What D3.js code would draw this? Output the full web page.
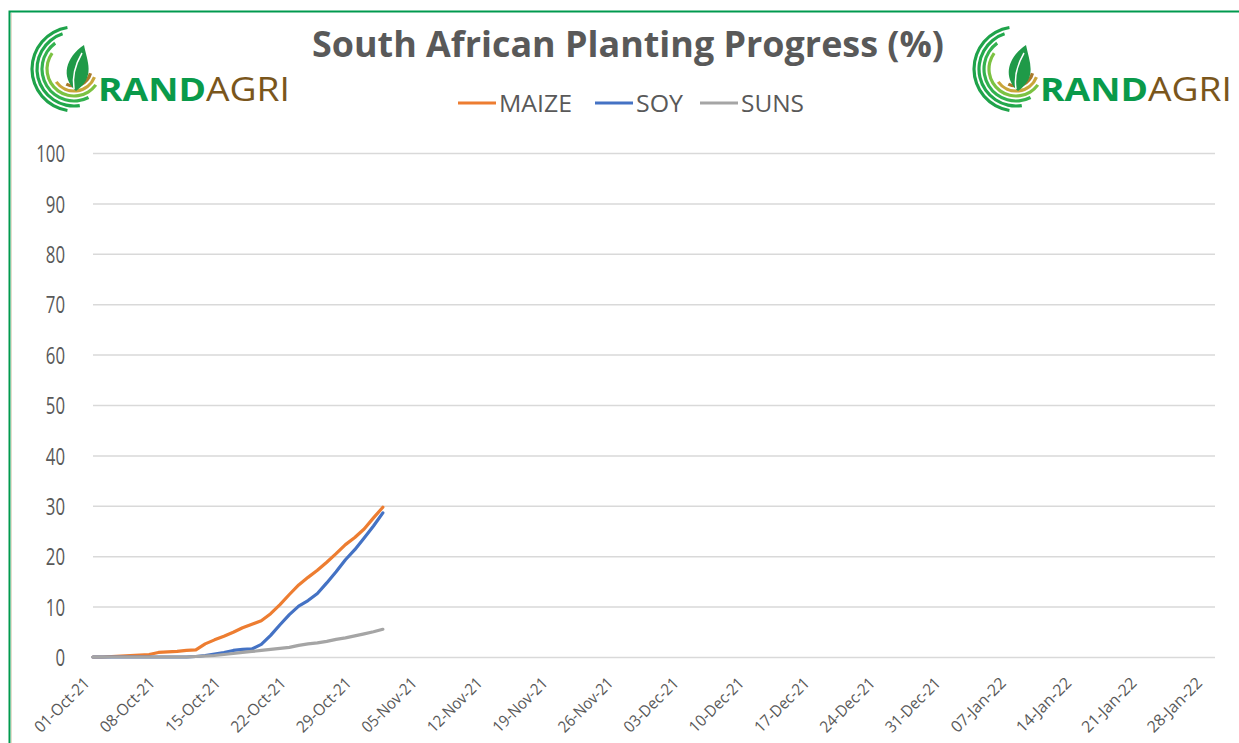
<!DOCTYPE html>
<meta charset="utf-8">
<script src="https://cdn.jsdelivr.net/npm/d3@7"></script>
<html>
<head>
  <title>South African Planting Progress</title>
  <style>
    body { margin: 0; background: #fff; }
    svg text { font-family: "Open Sans", "Liberation Sans", sans-serif; }
  </style>
</head>
<body>
  <div id="my_dataviz"></div>
</body>
</html>

<script>
  // daily dates for the season so far
  var dates = ["01-Oct-21","02-Oct-21","03-Oct-21","04-Oct-21","05-Oct-21","06-Oct-21","07-Oct-21",
    "08-Oct-21","09-Oct-21","10-Oct-21","11-Oct-21","12-Oct-21","13-Oct-21","14-Oct-21",
    "15-Oct-21","16-Oct-21","17-Oct-21","18-Oct-21","19-Oct-21","20-Oct-21","21-Oct-21",
    "22-Oct-21","23-Oct-21","24-Oct-21","25-Oct-21","26-Oct-21","27-Oct-21","28-Oct-21",
    "29-Oct-21","30-Oct-21","31-Oct-21","01-Nov-21"];

  var maize = [0,0,0.1,0.2,0.3,0.4,0.5,0.9,1.0,1.1,1.3,1.4,2.6,3.4,4.1,4.9,5.8,6.5,7.2,8.6,
    10.4,12.4,14.3,15.8,17.2,18.8,20.5,22.3,23.7,25.4,27.6,29.7];
  var soy = [0,0,0,0,0,0,0,0,0,0,0,0.1,0.3,0.6,0.9,1.3,1.5,1.6,2.5,4.3,
    6.4,8.4,10.1,11.2,12.6,14.7,16.9,19.3,21.3,23.6,26.0,28.6];
  var suns = [0,0,0,0,0,0,0,0,0,0,0,0.1,0.2,0.3,0.5,0.7,0.9,1.1,1.3,1.5,
    1.7,1.9,2.3,2.6,2.8,3.1,3.5,3.8,4.2,4.6,5.0,5.5];

  var seriesNames = ["MAIZE", "SOY", "SUNS"];
  var seriesColors = ["#ED7D31", "#4472C4", "#A5A5A5"];

  var tickLabels = ["01-Oct-21","08-Oct-21","15-Oct-21","22-Oct-21","29-Oct-21","05-Nov-21",
    "12-Nov-21","19-Nov-21","26-Nov-21","03-Dec-21","10-Dec-21","17-Dec-21","24-Dec-21",
    "31-Dec-21","07-Jan-22","14-Jan-22","21-Jan-22","28-Jan-22"];
  var yTicks = [0,10,20,30,40,50,60,70,80,90,100];

  var parse = d3.timeParse("%d-%b-%y");
  var fmt = d3.timeFormat("%d-%b-%y");

  var W = 1239, H = 743;
  var plot = {left: 93, right: 1215, top: 153, bottom: 657};

  var svg = d3.select("#my_dataviz")
    .append("svg")
      .attr("width", W)
      .attr("height", H);

  // outer frame
  svg.append("rect").attr("x", 0).attr("y", 0).attr("width", W).attr("height", H).attr("fill", "#fff");
  svg.append("path")
    .attr("d", "M9.5," + H + " V11.5 H" + W)
    .attr("fill", "none")
    .attr("stroke", "#009a4e")
    .attr("stroke-width", 2);
  svg.append("line")
    .attr("x1", 11.5).attr("x2", 11.5).attr("y1", 13).attr("y2", H)
    .attr("stroke", "#e6dccb").attr("stroke-width", 1);

  var x = d3.scaleTime()
    .domain([parse("01-Oct-21"), parse("29-Jan-22")])
    .range([plot.left, plot.right]);

  var y = d3.scaleLinear()
    .domain([0, 100])
    .range([plot.bottom, plot.top]);

  // gridlines
  svg.append("g")
    .selectAll("line")
    .data(yTicks)
    .enter()
    .append("line")
      .attr("x1", plot.left)
      .attr("x2", plot.right)
      .attr("y1", function(d) { return y(d) + 0.5; })
      .attr("y2", function(d) { return y(d) + 0.5; })
      .attr("stroke", "#d9d9d9")
      .attr("stroke-width", 1.5);

  // y axis labels (narrow, tall digits like the original)
  svg.append("g")
    .attr("transform", "translate(" + (plot.left - 28) + ",0)")
    .call(d3.axisLeft(y).tickValues(yTicks).tickSize(0).tickPadding(0))
    .call(function(g) { g.select(".domain").remove(); })
    .selectAll("text")
      .attr("font-family", "'Open Sans', sans-serif")
      .style("font-size", "24px")
      .attr("fill", "#595959")
      .attr("dy", "0.36em")
      .attr("textLength", function(d) { return String(d).length * 9.6; })
      .attr("lengthAdjust", "spacingAndGlyphs");

  // x axis labels, rotated
  svg.append("g")
    .attr("transform", "translate(0," + plot.bottom + ")")
    .call(d3.axisBottom(x).tickValues(tickLabels.map(parse)).tickFormat(fmt).tickSize(0))
    .call(function(g) { g.select(".domain").remove(); })
    .selectAll("text")
      .attr("font-family", "'Open Sans', sans-serif")
      .style("font-size", "16px")
      .attr("fill", "#595959")
      .style("text-anchor", "end")
      .attr("dy", "0")
      .attr("textLength", 70)
      .attr("lengthAdjust", "spacingAndGlyphs")
      .attr("transform", "translate(-5,25)rotate(-45)");

  // series lines, in sheet order (suns ends up on top)
  var series = [maize, soy, suns];
  var line = d3.line()
    .x(function(d, i) { return x(parse(dates[i])); })
    .y(function(d) { return y(d); });

  series.forEach(function(s, k) {
    svg.append("path")
      .datum(s)
      .attr("fill", "none")
      .attr("stroke", seriesColors[k])
      .attr("stroke-width", 3.2)
      .attr("stroke-linejoin", "round")
      .attr("stroke-linecap", "round")
      .attr("d", line);
  });

  // title
  svg.append("text")
    .attr("x", 628)
    .attr("y", 57)
    .attr("text-anchor", "middle")
    .style("font-size", "35px")
    .style("font-weight", "bold")
    .attr("fill", "#595959")
    .attr("textLength", 632)
    .attr("lengthAdjust", "spacingAndGlyphs")
    .text("South African Planting Progress (%)");

  // legend
  var legendX = [458, 595, 700];
  var legendW = [73, 47, 63];
  var legend = svg.append("g");
  seriesNames.forEach(function(name, i) {
    legend.append("line")
      .attr("x1", legendX[i]).attr("x2", legendX[i] + 38)
      .attr("y1", 103).attr("y2", 103)
      .attr("stroke", seriesColors[i])
      .attr("stroke-width", 3);
    legend.append("text")
      .attr("x", legendX[i] + 41)
      .attr("y", 112)
      .style("font-size", "23px")
      .attr("fill", "#595959")
      .attr("textLength", legendW[i])
      .attr("lengthAdjust", "spacingAndGlyphs")
      .text(name);
  });

  // logo: arcs + leaf + wordmark
  function drawLogo(ox, oy) {
    var g = svg.append("g").attr("transform", "translate(" + ox + "," + oy + ")");
    var arc = d3.arc();
    var rings = [
      {r: 42, a0: Math.PI * 1.05, a1: Math.PI * 1.95, c: "#1fa34a"},
      {r: 37, a0: Math.PI * 0.95, a1: Math.PI * 1.9, c: "#22a84c"},
      {r: 32, a0: Math.PI * 0.85, a1: Math.PI * 1.8, c: "#34b24f"},
      {r: 27, a0: Math.PI * 0.7, a1: Math.PI * 1.7, c: "#7cc242"},
      {r: 22, a0: Math.PI * 0.62, a1: Math.PI * 1.3, c: "#c9a53a"},
      {r: 17, a0: Math.PI * 0.58, a1: Math.PI * 1.15, c: "#a8792a"},
      {r: 12, a0: Math.PI * 0.55, a1: Math.PI * 1.05, c: "#7a5420"}
    ];
    rings.forEach(function(d) {
      g.append("path")
        .attr("d", arc({innerRadius: d.r - 1.6, outerRadius: d.r + 1.6, startAngle: d.a0, endAngle: d.a1}))
        .attr("fill", d.c);
    });
    // leaf
    g.append("path")
      .attr("d", "M2,22 C-14,8 -8,-12 10,-24 C13,-8 22,8 2,22 Z")
      .attr("fill", "#1f9a48");
    g.append("path")
      .attr("d", "M0,20 C-2,8 1,-4 8,-16")
      .attr("fill", "none").attr("stroke", "#fff").attr("stroke-width", 1.5);
    var t = g.append("text")
      .attr("x", 24)
      .attr("y", 32)
      .style("font-size", "33px")
      .attr("textLength", 192)
      .attr("lengthAdjust", "spacingAndGlyphs");
    t.append("tspan").attr("fill", "#0a9a4a").style("font-weight", "bold").text("RAND");
    t.append("tspan").attr("fill", "#7a561c").text("AGRI");
  }
  drawLogo(74, 69);
  drawLogo(1016, 69);
</script>
